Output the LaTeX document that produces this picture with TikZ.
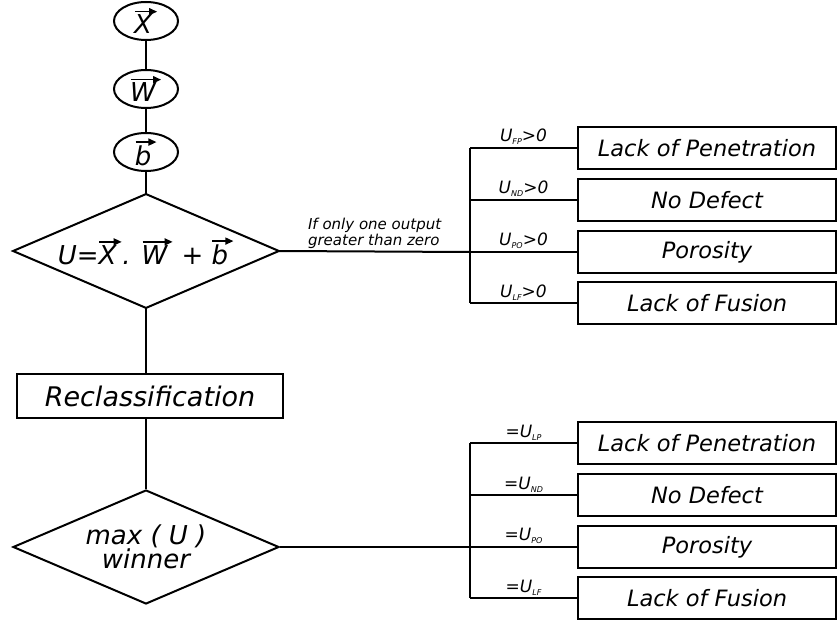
\documentclass[tikz,border=0pt]{standalone}
\usepackage{fontspec}
\setmainfont{DejaVu Sans}
\usepackage{tikz}
\usetikzlibrary{shapes.geometric}
\usetikzlibrary{arrows.meta}

% letter with a heavy arrow over it
\newcommand{\vecarr}[1]{\tikz[baseline=(vv.base)]{%
    \node[draw=none, shape=rectangle, inner sep=0pt, minimum size=0pt] (vv) {#1};%
    \draw[line width=1.5pt, -{Triangle[length=8pt, width=7pt]}]
        ([xshift=1pt, yshift=3pt]vv.north west) -- ([xshift=5pt, yshift=3pt]vv.north east);}}
% U with a small subscript
\newcommand{\usub}[1]{U\raisebox{-3pt}{\fontsize{8}{8}\selectfont #1}}

\begin{document}
\begin{tikzpicture}[
    x=1pt, y=-1pt, % one unit is one pixel of the figure, y grows downwards
    line width=2pt, % heavy strokes everywhere
    vecnode/.style={
        draw, ellipse, % input vectors
        minimum width=64pt, minimum height=38pt, inner sep=0pt,
        font=\fontsize{26}{28}\selectfont\itshape
    },
    decision/.style={
        draw, diamond, aspect=2.3, inner sep=0pt,
        minimum width=266pt, minimum height=114pt,
        align=center, font=\fontsize{26}{23}\selectfont\itshape
    },
    classbox/.style={
        draw, rectangle, % defect classes on the right
        minimum width=258pt, minimum height=42pt, inner sep=0pt,
        font=\fontsize{22.5}{24}\selectfont\itshape
    },
    condlabel/.style={above, inner sep=2pt, font=\fontsize{17}{18}\selectfont\itshape},
]
\useasboundingbox (0,0) rectangle (837,620);

% network inputs
\node[vecnode] (vx) at (146,21) {\vecarr{X}};
\node[vecnode] (vw) at (146,89) {\vecarr{W}};
\node[vecnode] (vb) at (146,152) {\vecarr{b}};

\node[decision] (net) at (146,251) {U=\vecarr{X}. \vecarr{W} + \vecarr{b}};
\node[draw, rectangle, minimum width=266pt, minimum height=44pt, inner sep=0pt,
      font=\fontsize{27}{29}\selectfont\itshape] (recl) at (150,396) {Reclassification};
\node[decision, font=\fontsize{26}{22}\selectfont\itshape] (win) at (146,547) {max ( U )\\winner};

% first classification
\coordinate (bus1) at (470,252);
\node[classbox] (lp1) at (707,148) {Lack of Penetration};
\node[classbox] (nd1) at (707,200) {No Defect};
\node[classbox] (po1) at (707,252) {Porosity};
\node[classbox] (lf1) at (707,303) {Lack of Fusion};

% reclassification
\coordinate (bus2) at (470,547);
\node[classbox] (lp2) at (707,443) {Lack of Penetration};
\node[classbox] (nd2) at (707,495) {No Defect};
\node[classbox] (po2) at (707,547) {Porosity};
\node[classbox] (lf2) at (707,598) {Lack of Fusion};

\draw (vx) -- (vw);
\draw (vw) -- (vb);
\draw (vb) -- (net);
\draw (net.south) -- (net.south |- recl.north);
\draw (net.south |- recl.south) -- (win.north);

\draw (net.east) -- node[above, align=left, inner sep=2pt,
    font=\fontsize{15}{14}\selectfont\itshape] {If only one output\\greater than zero} (bus1);
\draw (bus1 |- lp1.west) -- (bus1 |- lf1.west);
\draw (bus1 |- lp1.west) -- node[condlabel] {\usub{FP}>0} (lp1.west);
\draw (bus1 |- nd1.west) -- node[condlabel] {\usub{ND}>0} (nd1.west);
\draw (bus1 |- po1.west) -- node[condlabel] {\usub{PO}>0} (po1.west);
\draw (bus1 |- lf1.west) -- node[condlabel] {\usub{LF}>0} (lf1.west);

\draw (win.east) -- (bus2);
\draw (bus2 |- lp2.west) -- (bus2 |- lf2.west);
\draw (bus2 |- lp2.west) -- node[condlabel] {=\usub{LP}} (lp2.west);
\draw (bus2 |- nd2.west) -- node[condlabel] {=\usub{ND}} (nd2.west);
\draw (bus2 |- po2.west) -- node[condlabel] {=\usub{PO}} (po2.west);
\draw (bus2 |- lf2.west) -- node[condlabel] {=\usub{LF}} (lf2.west);
\end{tikzpicture}
\end{document}
